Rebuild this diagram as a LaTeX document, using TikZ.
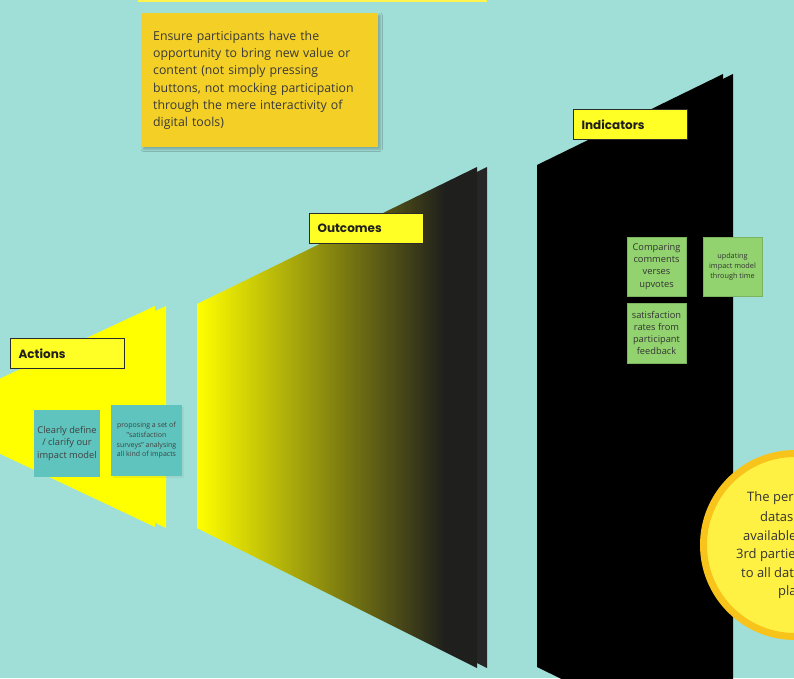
\documentclass[tikz,border=0pt]{standalone}
\usepackage{fontspec}
\setmainfont{Open Sans}
\newfontfamily\popfont{Poppins}
\usetikzlibrary{shadows,shadows.blur}
\definecolor{bgc}{HTML}{A0DFD7}
\definecolor{yel}{HTML}{FFFF00}
\definecolor{labelfill}{HTML}{FFFF26}
\definecolor{labelborder}{HTML}{2B2B2B}
\definecolor{notey}{HTML}{F4D027}
\definecolor{tealnote}{HTML}{5FC4BD}
\definecolor{greennote}{HTML}{92D36F}
\definecolor{circfill}{HTML}{FFF143}
\definecolor{circring}{HTML}{F8C31B}
\definecolor{textdark}{HTML}{333333}
\definecolor{stripc}{HTML}{FFF34F}
\definecolor{darkend}{HTML}{1F1F1D}
\definecolor{midolive}{HTML}{827A16}
\definecolor{backdark}{HTML}{262626}
\begin{document}
\begin{tikzpicture}[x=1pt,y=-1pt,
  stagelabel/.style={draw=labelborder, line width=1.2pt, fill=labelfill,
    minimum width=114pt, minimum height=30pt, inner sep=0pt, text width=98pt,
    align=left, font=\popfont\bfseries\fontsize{12}{14}\selectfont, text=black!88, anchor=north west},
  sticky/.style={inner sep=0pt, align=center, text=textdark},
  tealbox/.style={sticky, fill=tealnote, text=black!75},
  greenbox/.style={sticky, fill=greennote, draw=greennote!85!black, line width=0.4pt, minimum width=59pt},
  bigfont/.style={font=\fontsize{9.3}{12.3}\selectfont},
  smallfont/.style={font=\fontsize{7}{9.6}\selectfont}
]
\useasboundingbox (0,0) rectangle (794,678);
\clip (0,0) rectangle (794,678);
\fill[bgc] (0,0) rectangle (794,678);
\fill[stripc] (138,0) rectangle (487,2);

% Actions stage
\fill[yel] (-69,416) -- (166,306) -- (166,528) -- cycle;
\fill[yel] (-80,416) -- (155,306) -- (155,527) -- cycle;

% Outcomes stage
\fill[backdark] (207,304) -- (487,167) -- (487,668) -- (207,528) -- cycle;
\begin{scope}
\clip (197,304) -- (477,167) -- (477,668) -- (197,528) -- cycle;
\shade[left color=yel, middle color=midolive, right color=darkend] (197,160) rectangle (445,675);
\fill[darkend] (445,160) rectangle (478,675);
\end{scope}

% Indicators stage
\fill[black] (547,165) -- (733,74) -- (733,768) -- (547,667) -- cycle;
\fill[black] (537,165) -- (723,74) -- (723,758) -- (537,667) -- cycle;

% Top note
\node[sticky, fill=notey, anchor=north west, minimum width=237pt, minimum height=134pt,
  text width=213pt, align=left, font=\fontsize{12.3}{17.3}\selectfont, text=black!78,
  blur shadow={shadow xshift=2pt, shadow yshift=-2pt, shadow blur steps=6, shadow opacity=25}]
  (topnote) at (141,13)
  {Ensure participants have the\\opportunity to bring new value or\\content (not simply pressing\\buttons, not mocking participation\\through the mere interactivity of\\digital tools)};

% Labels
\node[stagelabel] (actions) at (10,338) {Actions};
\node[stagelabel] (outcomes) at (309,213) {Outcomes};
\node[stagelabel] (indicators) at (573,109) {Indicators};

% Teal notes
\node[tealbox, bigfont, minimum width=66pt, minimum height=67pt] (clarify) at (67,443.5)
  {Clearly define\\/ clarify our\\impact model};
\node[tealbox, smallfont, minimum width=71pt, minimum height=71pt,
  drop shadow={shadow xshift=1.5pt, shadow yshift=-1.5pt, opacity=0.12}] (surveys) at (146.5,440.5)
  {proposing a set of\\"satisfaction\\surveys" analysing\\all kind of impacts};

% Green notes
\node[greenbox, bigfont, minimum height=59pt] (comparing) at (656.5,266.5)
  {Comparing\\comments\\verses\\upvotes};
\node[greenbox, font=\fontsize{7.3}{10.2}\selectfont, minimum height=59pt] (updating) at (732.5,266.5)
  {updating\\impact model\\through time};
\node[greenbox, bigfont, minimum height=60pt] (satisfaction) at (656.5,333)
  {satisfaction\\rates from\\participant\\feedback};

% Circle
\node[circle, fill=circfill, draw=circring, line width=7pt, minimum size=183pt, inner sep=0pt] (bubble) at (795,545) {};
\begin{scope}[every node/.style={anchor=west, inner sep=0pt, text=black!80, font=\fontsize{13}{15}\selectfont}]
\node (c1) at (747,498) {The personal};
\node (c2) at (760,517) {datasets are};
\node (c3) at (743,536) {available to};
\node (c4) at (736,555) {3rd parties};
\node (c5) at (741,573) {to all data on};
\node (c6) at (778,592) {platform};
\end{scope}
\end{tikzpicture}
\end{document}
